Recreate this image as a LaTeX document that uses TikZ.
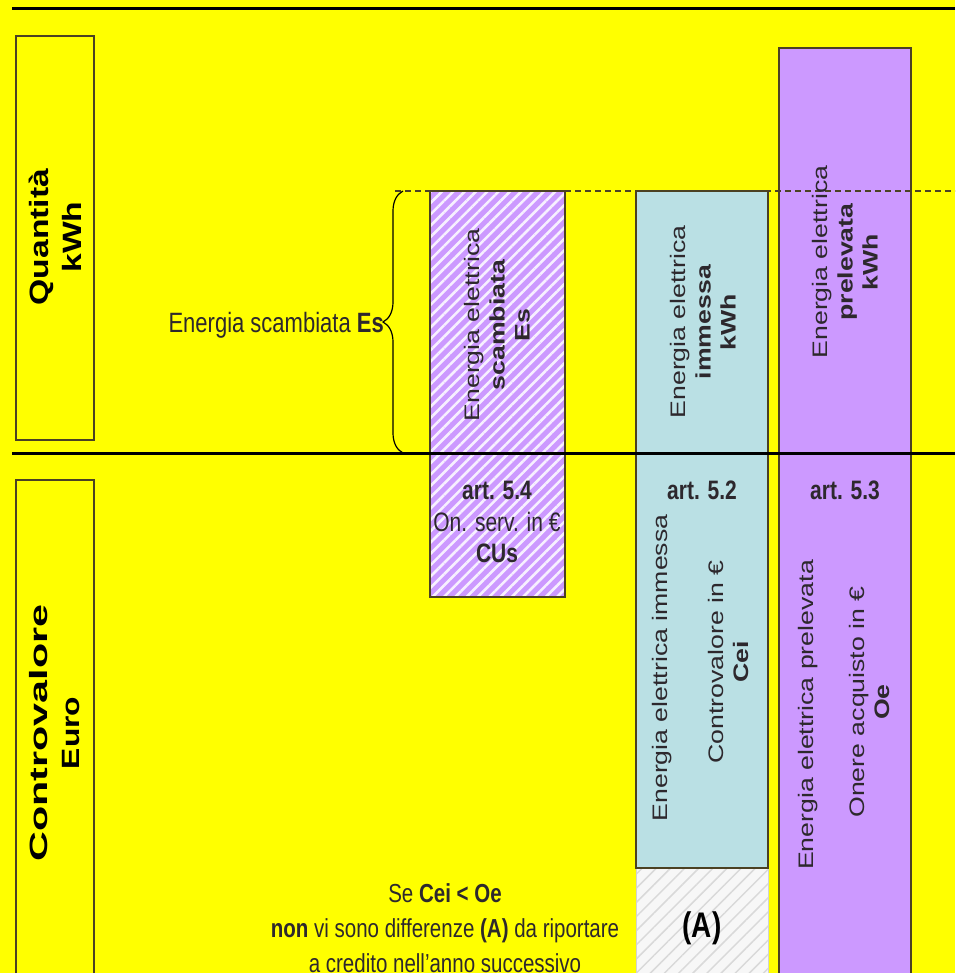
\documentclass[tikz,border=0pt]{standalone}
\usepackage{fontspec}
\setmainfont{Liberation Sans}
\usetikzlibrary{patterns.meta,decorations.pathreplacing}
\definecolor{bgyellow}{RGB}{255,255,0}
\definecolor{lilac}{RGB}{204,153,255}
\definecolor{paleblue}{RGB}{186,224,228}
\definecolor{edge}{RGB}{75,65,35}
\definecolor{ink}{RGB}{45,40,45}
\begin{document}
\begin{tikzpicture}[x=1pt,y=-1pt,
  bar/.style={draw=edge, line width=1.6pt},
  sepline/.style={draw=black, line width=3pt},
  txt/.style={font=\fontsize{21}{25}\selectfont, text=ink, align=center, inner sep=0pt, yscale=1.27},
  rtxt/.style={txt, rotate=90},
  side/.style={txt, rotate=90, text=black, font=\fontsize{26.5}{33}\selectfont\bfseries},
  hatchp/.style={pattern={Lines[angle=45,distance=8pt,line width=2.6pt]}, pattern color=white!85!lilac},
  hatchg/.style={pattern={Lines[angle=45,distance=10pt,line width=1.5pt]}, pattern color=gray!30},
]
\useasboundingbox (0,0) rectangle (955,973);
\clip (0,0) rectangle (955,973);
\fill[bgyellow] (0,0) rectangle (955,973);

% top separator
\draw[sepline] (12,9) -- (955,9);

% left label boxes
\draw[bar] (16,36) rectangle (94,440);
\draw[bar] (16,480) rectangle (94,1000);
\node[side] (lq) at (55,237) {Quantità\\kWh};
\node[side, font=\fontsize{25}{32}\selectfont\bfseries] (lc) at (55,733) {\scalebox{1.3}[1]{Controvalore}\\Euro};

% purple column
\fill[lilac] (779,48) rectangle (911,1000);
\draw[bar] (779,48) rectangle (911,1000);

% hatched column
\fill[lilac] (430,191) rectangle (565,597);
\fill[hatchp] (430,191) rectangle (565,597);
\draw[bar] (430,191) rectangle (565,597);

% blue column
\fill[paleblue] (636,191) rectangle (768,868);
\draw[bar] (636,191) rectangle (768,868);

% (A) box
\fill[gray!6] (636,869) rectangle (768,1000);
\fill[hatchg] (636,869) rectangle (768,1000);
\draw[draw=gray!35, line width=1pt] (636,869) -- (636,1000) (768,869) -- (768,1000);
\draw[draw=edge, line width=2.2pt] (636,868) -- (768,868);

% dashed level line
\draw[draw=edge, line width=1.3pt, dash pattern=on 6pt off 4pt] (395,191) -- (955,191);

% middle separator
\draw[sepline] (12,453) -- (955,453);

% brace
\draw[line width=1.2pt, decorate, decoration={brace, amplitude=20pt}] (403,453) -- (403,191);
\node[txt, anchor=east, font=\fontsize{22}{26}\selectfont] (es) at (384,325) {Energia scambiata \textbf{Es}};

% upper texts
\node[rtxt] (t1) at (497,325) {Energia elettrica\\\textbf{scambiata}\\\textbf{Es}};
\node[rtxt] (t2) at (703,322) {Energia elettrica\\\textbf{immessa}\\\textbf{kWh}};
\node[rtxt] (t3) at (845,262) {Energia elettrica\\\textbf{prelevata}\\\textbf{kWh}};

% lower texts
\node[txt] (a54) at (497,522) {\textbf{art. 5.4}\\On. serv. in €\\\textbf{CUs}};
\node[txt] (a52) at (702,490) {\textbf{art. 5.2}};
\node[txt] (a53) at (845,490) {\textbf{art. 5.3}};
\node[rtxt] (b1) at (662,668) {Energia elettrica immessa};
\node[rtxt] (b2) at (728,662) {Controvalore in €\\\textbf{Cei}};
\node[rtxt] (p1) at (808,715) {Energia elettrica prelevata};
\node[rtxt] (p2) at (869,702) {Onere acquisto in €\\\textbf{Oe}};

% bottom
\node[txt, font=\fontsize{20.5}{27.5}\selectfont] (note) at (445,928) {Se \textbf{Cei < Oe}\\\textbf{non} vi sono differenze \textbf{(A)} da riportare\\a credito nell'anno successivo};
\node[txt, text=black, font=\fontsize{28}{32}\selectfont\bfseries] (A) at (702,928) {(A)};
\end{tikzpicture}
\end{document}
